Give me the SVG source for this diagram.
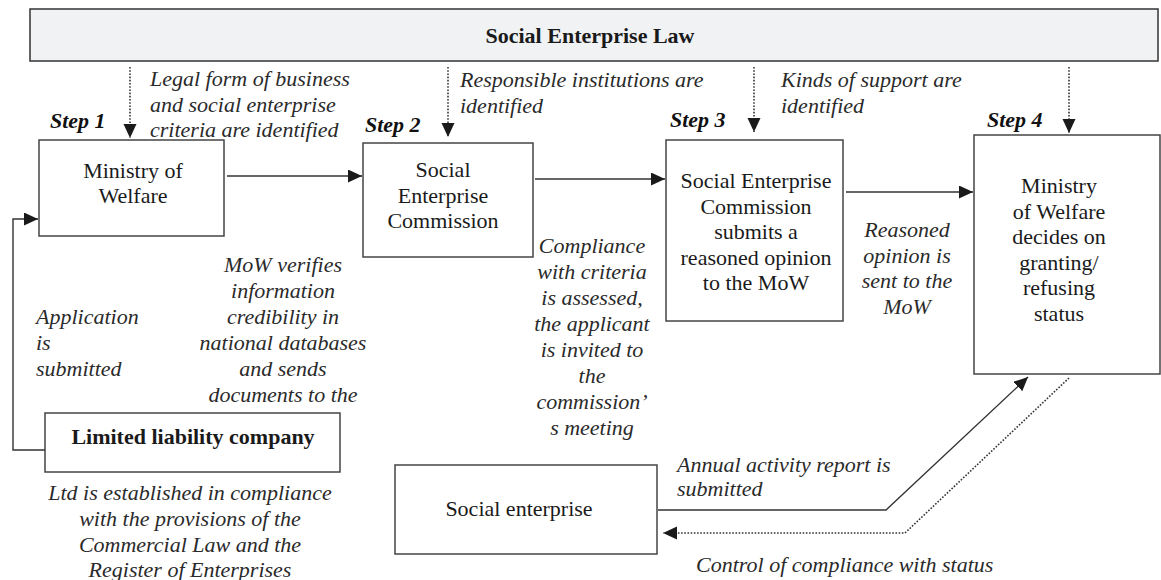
<svg xmlns="http://www.w3.org/2000/svg" width="1161" height="580" viewBox="0 0 1161 580">
<style>
.box{fill:#fff;stroke:#444;stroke-width:1.5}
.law{fill:#f1f2f4;stroke:#333;stroke-width:1.5}
.t{font-size:22px;fill:#1a1a1a}
.c{text-anchor:middle}
.b{font-weight:bold}
.i{font-style:italic;fill:#2a2a2a}
.bi{font-style:italic;font-weight:bold;fill:#111}
.ln{fill:none;stroke:#333;stroke-width:1.4}
.dot{fill:none;stroke:#333;stroke-width:1.6;stroke-dasharray:1.6 1.6}
</style>
<defs>
<marker id="ah" markerUnits="userSpaceOnUse" markerWidth="16" markerHeight="14" refX="14" refY="6.5" orient="auto" viewBox="0 0 16 14">
<path d="M0,0 L14,6.5 L0,13 z" fill="#1a1a1a" stroke="none"/>
</marker>
</defs>
<rect width="1161" height="580" fill="#fff"/>

<g id="law">
<rect class="law" x="30" y="9" width="1128" height="52"/>
<text font-family="Times New Roman" class="t b c" x="590" y="43">Social Enterprise Law</text>
</g>

<g id="step1">
<text font-family="Times New Roman" class="t bi" x="50" y="128">Step 1</text>
<rect class="box" x="39" y="140" width="185" height="96"/>
<text font-family="Times New Roman" class="t c" x="133" y="178">Ministry of</text>
<text font-family="Times New Roman" class="t c" x="133" y="203">Welfare</text>
</g>

<g id="step2">
<text font-family="Times New Roman" class="t bi" x="365" y="132">Step 2</text>
<rect class="box" x="363" y="143" width="170" height="114"/>
<text font-family="Times New Roman" class="t c" x="443" y="177">Social</text>
<text font-family="Times New Roman" class="t c" x="443" y="203">Enterprise</text>
<text font-family="Times New Roman" class="t c" x="443" y="228">Commission</text>
</g>

<g id="step3">
<text font-family="Times New Roman" class="t bi" x="670" y="127">Step 3</text>
<rect class="box" x="666" y="140" width="177" height="181"/>
<text font-family="Times New Roman" class="t c" x="756" y="188">Social Enterprise</text>
<text font-family="Times New Roman" class="t c" x="756" y="213.5">Commission</text>
<text font-family="Times New Roman" class="t c" x="756" y="239">submits a</text>
<text font-family="Times New Roman" class="t c" x="756" y="264.5">reasoned opinion</text>
<text font-family="Times New Roman" class="t c" x="756" y="290">to the MoW</text>
</g>

<g id="step4">
<text font-family="Times New Roman" class="t bi" x="987" y="127">Step 4</text>
<rect class="box" x="974" y="135" width="186" height="239"/>
<text font-family="Times New Roman" class="t c" x="1059" y="193">Ministry</text>
<text font-family="Times New Roman" class="t c" x="1059" y="218.5">of Welfare</text>
<text font-family="Times New Roman" class="t c" x="1059" y="244">decides on</text>
<text font-family="Times New Roman" class="t c" x="1059" y="269.5">granting/</text>
<text font-family="Times New Roman" class="t c" x="1059" y="295">refusing</text>
<text font-family="Times New Roman" class="t c" x="1059" y="320.5">status</text>
</g>

<g id="ltd">
<rect class="box" x="45" y="413" width="295" height="59"/>
<text font-family="Times New Roman" class="t b c" x="193" y="444">Limited liability company</text>
</g>

<g id="social-enterprise">
<rect class="box" x="395" y="465" width="262" height="89"/>
<text font-family="Times New Roman" class="t c" x="519" y="516">Social enterprise</text>
</g>

<g id="connectors">
<line class="dot" x1="130" y1="67" x2="130" y2="138" marker-end="url(#ah)"/>
<line class="dot" x1="448" y1="67" x2="448" y2="137" marker-end="url(#ah)"/>
<line class="dot" x1="754" y1="67" x2="754" y2="132" marker-end="url(#ah)"/>
<line class="dot" x1="1069" y1="67" x2="1069" y2="133" marker-end="url(#ah)"/>
<line class="ln" x1="227" y1="176" x2="362" y2="176" marker-end="url(#ah)"/>
<line class="ln" x1="535" y1="179" x2="665" y2="179" marker-end="url(#ah)"/>
<line class="ln" x1="846" y1="192" x2="973" y2="192" marker-end="url(#ah)"/>
<polyline class="ln" points="45,450 13,450 13,219 38,219" marker-end="url(#ah)"/>
<polyline class="ln" points="658,510 886,510 1028,377" marker-end="url(#ah)"/>
<polyline class="dot" points="1069,378 905,533 663,533" marker-end="url(#ah)"/>
</g>

<g id="labels">
<text font-family="Times New Roman" class="t i" x="150" y="86">Legal form of business</text>
<text font-family="Times New Roman" class="t i" x="150" y="111.5">and social enterprise</text>
<text font-family="Times New Roman" class="t i" x="150" y="137">criteria are identified</text>
<text font-family="Times New Roman" class="t i" x="460" y="87">Responsible institutions are</text>
<text font-family="Times New Roman" class="t i" x="460" y="113">identified</text>
<text font-family="Times New Roman" class="t i" x="781" y="87">Kinds of support are</text>
<text font-family="Times New Roman" class="t i" x="781" y="113">identified</text>
<text font-family="Times New Roman" class="t i c" x="283" y="272">MoW verifies</text>
<text font-family="Times New Roman" class="t i c" x="283" y="298">information</text>
<text font-family="Times New Roman" class="t i c" x="283" y="324">credibility in</text>
<text font-family="Times New Roman" class="t i c" x="283" y="350">national databases</text>
<text font-family="Times New Roman" class="t i c" x="283" y="376">and sends</text>
<text font-family="Times New Roman" class="t i c" x="283" y="402">documents to the</text>
<text font-family="Times New Roman" class="t i" x="36" y="324">Application</text>
<text font-family="Times New Roman" class="t i" x="36" y="350">is</text>
<text font-family="Times New Roman" class="t i" x="36" y="376">submitted</text>
<text font-family="Times New Roman" class="t i c" x="592" y="253">Compliance</text>
<text font-family="Times New Roman" class="t i c" x="592" y="279">with criteria</text>
<text font-family="Times New Roman" class="t i c" x="592" y="305">is assessed,</text>
<text font-family="Times New Roman" class="t i c" x="592" y="331">the applicant</text>
<text font-family="Times New Roman" class="t i c" x="592" y="357">is invited to</text>
<text font-family="Times New Roman" class="t i c" x="592" y="383">the</text>
<text font-family="Times New Roman" class="t i c" x="592" y="409">commission’</text>
<text font-family="Times New Roman" class="t i c" x="592" y="435">s meeting</text>
<text font-family="Times New Roman" class="t i c" x="907" y="237">Reasoned</text>
<text font-family="Times New Roman" class="t i c" x="907" y="262.5">opinion is</text>
<text font-family="Times New Roman" class="t i c" x="907" y="288">sent to the</text>
<text font-family="Times New Roman" class="t i c" x="907" y="313.5">MoW</text>
<text font-family="Times New Roman" class="t i c" x="190" y="500">Ltd is established in compliance</text>
<text font-family="Times New Roman" class="t i c" x="190" y="526">with the provisions of the</text>
<text font-family="Times New Roman" class="t i c" x="190" y="552">Commercial Law and the</text>
<text font-family="Times New Roman" class="t i c" x="190" y="577">Register of Enterprises</text>
<text font-family="Times New Roman" class="t i" x="677" y="472">Annual activity report is</text>
<text font-family="Times New Roman" class="t i" x="677" y="496">submitted</text>
<text font-family="Times New Roman" class="t i" x="696" y="572">Control of compliance with status</text>
</g>
</svg>
